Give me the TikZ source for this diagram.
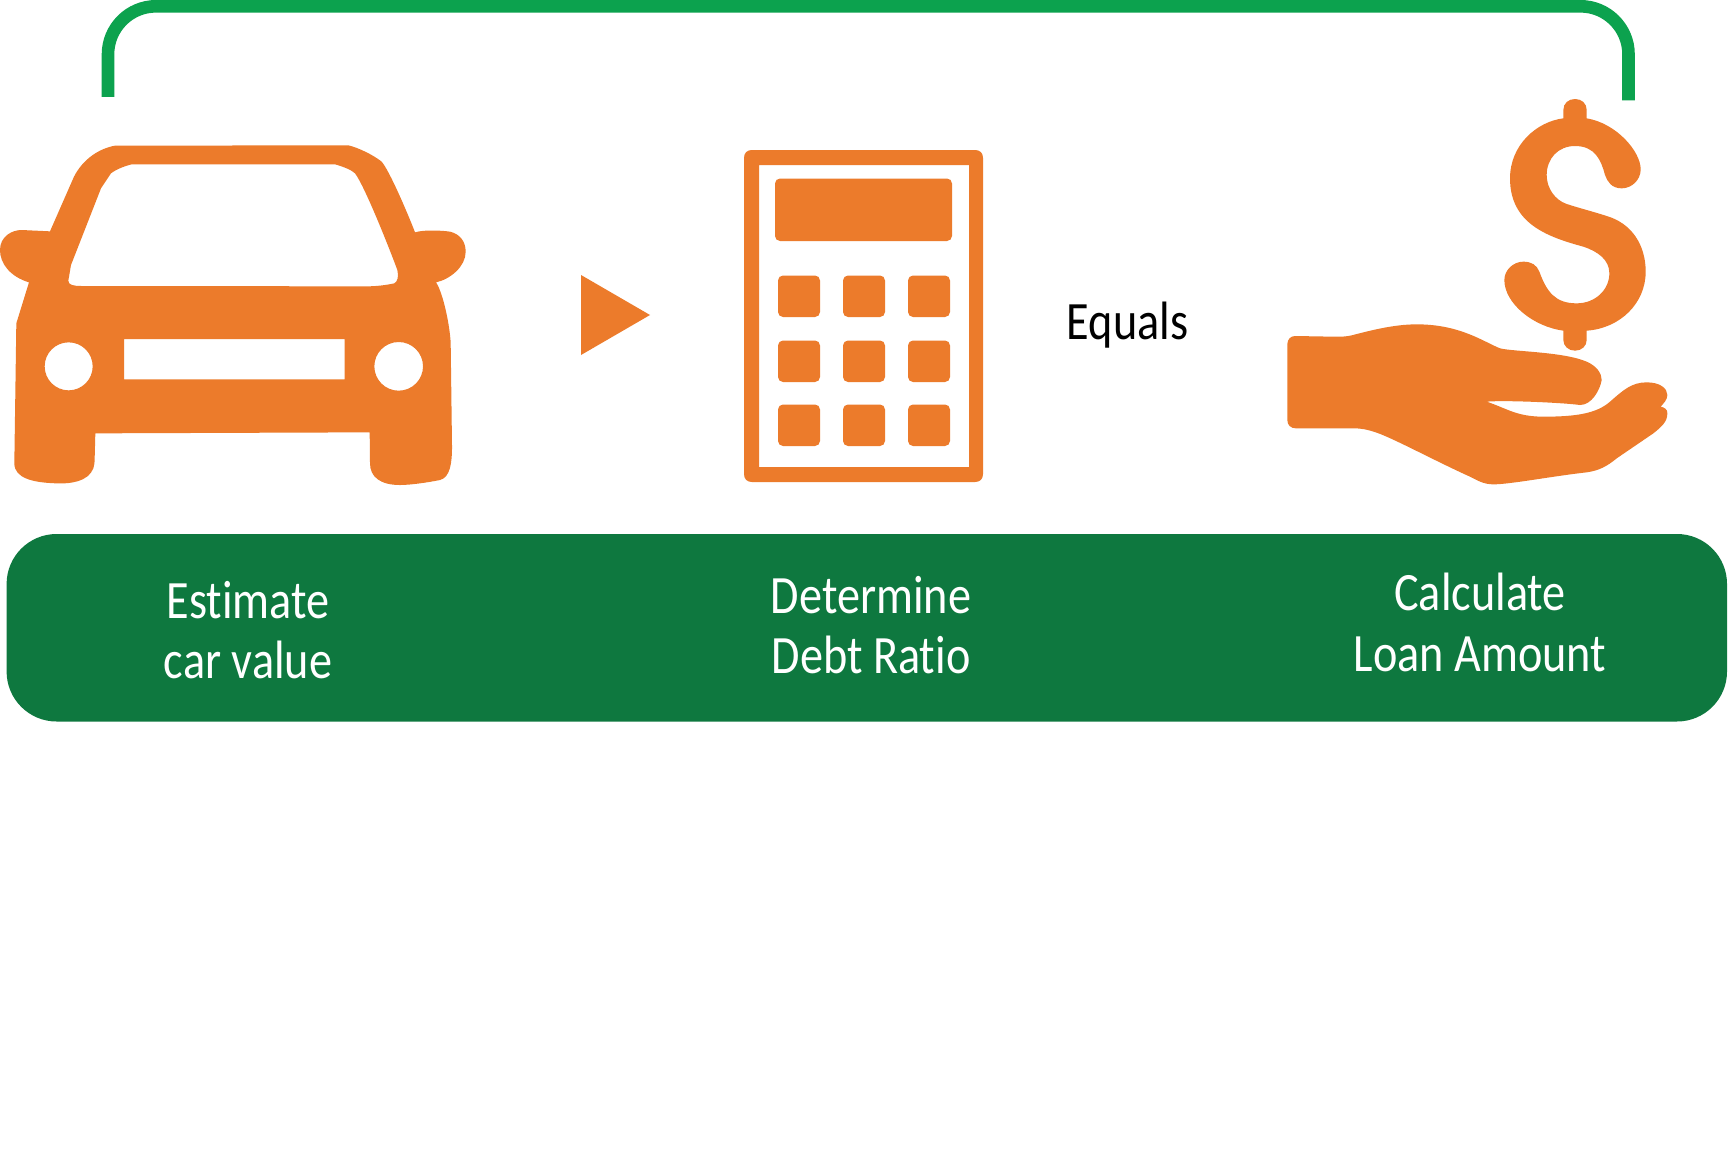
\documentclass[tikz,border=0pt]{standalone}
\usepackage{fontspec}
\setmainfont[FakeStretch=0.856,Ligatures=NoCommon]{Carlito}
\definecolor{iconorange}{HTML}{EC7B2B}
\definecolor{bardark}{HTML}{0E783F}
\definecolor{brightgreen}{HTML}{0CA24E}
\tikzset{
  icon/.style={fill=iconorange,draw=none},
  holes/.style={fill=iconorange,draw=none,even odd rule},
  barlabel/.style={text=white,anchor=base,inner sep=0pt,font=\fontsize{27}{32}\selectfont},
  keybtn/.style={fill=iconorange,draw=none,rounded corners=2.5pt}
}
\begin{document}
\begin{tikzpicture}[x=0.5pt,y=-0.5pt]
\useasboundingbox (0,0) rectangle (1728,1156);
\fill[white] (0,0) rectangle (1728,1156);
% bracket
\draw[brightgreen,line width=6.3pt,rounded corners=24pt] (108,97) -- (108,6.3) -- (1628.5,6.3) -- (1628.5,100.5);
% bar
\fill[bardark,rounded corners=25pt] (6.6,534) rectangle (1727,721.5);
% car
\begin{scope}[shift={(0,120)},x=0.16667pt,y=-0.16667pt]
\fill[holes]
 (345,77) -- (1045,76) .. controls (1075,83) and (1120,105) .. (1145,125)
 .. controls (1170,155) and (1225,285) .. (1245,337)
 .. controls (1275,328) and (1330,332) .. (1350,335)
 .. controls (1380,342) and (1397,365) .. (1397,395)
 .. controls (1397,440) and (1350,478) .. (1308,487)
 .. controls (1330,520) and (1350,620) .. (1352,670)
 -- (1356,980)
 .. controls (1356,1030) and (1350,1072) .. (1320,1080)
 .. controls (1280,1088) and (1230,1095) .. (1200,1095)
 .. controls (1140,1095) and (1110,1070) .. (1110,1030)
 -- (1109,937) -- (286,940) -- (284,1015)
 .. controls (284,1030) and (282,1038) .. (280,1045)
 .. controls (265,1085) and (210,1092) .. (170,1090)
 .. controls (100,1088) and (43,1075) .. (43,1030)
 -- (49,610) -- (87,487)
 .. controls (30,470) and (0,430) .. (0,390)
 .. controls (0,350) and (35,330) .. (65,330)
 -- (150,334) -- (222,170)
 .. controls (250,115) and (300,85) .. (345,77) -- cycle
 (395,133) -- (1005,133) .. controls (1030,140) and (1055,150) .. (1065,160)
 .. controls (1095,200) and (1170,390) .. (1192,450)
 .. controls (1197,470) and (1192,485) .. (1183,490)
 .. controls (1160,495) and (1130,499) .. (1100,499)
 -- (245,498) .. controls (220,498) and (205,495) .. (205,482)
 -- (213,435) -- (303,205) -- (333,160)
 .. controls (350,147) and (375,138) .. (395,133) -- cycle
 (372,657) rectangle (1034,778)
 (206,739) circle[radius=72]
 (1196,739) circle[radius=73];
\end{scope}
% triangle
\fill[icon] (581,275) -- (650,315) -- (581,355) -- cycle;
% calculator
\fill[holes]
 (752,150) -- (975,150) .. controls (980,150) and (983,153) .. (983,158)
 -- (983,474) .. controls (983,479) and (980,482) .. (975,482)
 -- (752,482) .. controls (747,482) and (744,479) .. (744,474)
 -- (744,158) .. controls (744,153) and (747,150) .. (752,150) -- cycle
 (759,165) rectangle (969,467);
\fill[keybtn] (775,178.5) rectangle (952,241);
\foreach \kx in {778,843,908}
  \foreach \ky in {275.5,340.5,404.5}
    \fill[keybtn] (\kx,\ky) rectangle ++(42,41.5);
% dollar and hand
\begin{scope}[shift={(1270,80)},x=0.16667pt,y=-0.16667pt]
\fill[icon]
 (880,115) -- (880,90) .. controls (880,70) and (895,57) .. (915,57)
 .. controls (935,57) and (950,70) .. (950,90) -- (950,115)
 .. controls (1040,130) and (1112,215) .. (1112,268)
 .. controls (1112,300) and (1085,325) .. (1055,325)
 .. controls (1025,325) and (1012,305) .. (1005,285)
 .. controls (993,240) and (975,198) .. (915,198)
 .. controls (865,198) and (830,235) .. (830,285)
 .. controls (830,325) and (855,360) .. (890,372)
 .. controls (930,385) and (970,395) .. (1010,408)
 .. controls (1085,430) and (1127,495) .. (1127,575)
 .. controls (1127,670) and (1050,745) .. (950,752)
 -- (950,780) .. controls (950,798) and (935,812) .. (915,812)
 .. controls (895,812) and (880,798) .. (880,780) -- (880,752)
 .. controls (790,740) and (703,670) .. (703,600)
 .. controls (703,570) and (730,545) .. (760,545)
 .. controls (785,545) and (800,555) .. (808,575)
 .. controls (830,635) and (855,670) .. (920,670)
 .. controls (975,670) and (1018,630) .. (1018,580)
 .. controls (1018,540) and (985,515) .. (940,500)
 .. controls (830,470) and (720,430) .. (720,295)
 .. controls (720,195) and (800,125) .. (880,115) -- cycle;
\fill[icon]
 (75,768) -- (190,770) .. controls (215,770) and (230,770) .. (245,766)
 .. controls (300,752) and (370,733) .. (440,733)
 .. controls (570,733) and (640,785) .. (690,805)
 .. controls (730,815) and (880,815) .. (950,845)
 .. controls (980,858) and (995,880) .. (995,900)
 .. controls (990,930) and (965,975) .. (930,975)
 .. controls (880,968) and (700,960) .. (650,965)
 .. controls (710,985) and (740,1010) .. (820,1010)
 .. controls (920,1010) and (980,1000) .. (1020,965)
 .. controls (1060,930) and (1085,907) .. (1130,907)
 .. controls (1170,907) and (1192,925) .. (1192,945)
 .. controls (1192,960) and (1180,970) .. (1172,980)
 .. controls (1185,983) and (1192,988) .. (1192,1000)
 .. controls (1192,1025) and (1175,1040) .. (1150,1060)
 -- (1040,1135)
 .. controls (1010,1160) and (985,1172) .. (950,1177)
 .. controls (850,1188) and (720,1213) .. (670,1213)
 .. controls (640,1213) and (620,1200) .. (600,1190)
 .. controls (500,1145) and (370,1075) .. (320,1058)
 .. controls (290,1048) and (275,1045) .. (250,1045)
 -- (78,1045) .. controls (62,1045) and (52,1035) .. (52,1020)
 -- (52,793) .. controls (52,778) and (62,768) .. (75,768) -- cycle;
\end{scope}
% labels
\node[barlabel,text=black] (equals) at (1127.5,339) {Equals};
\node[barlabel] (est) at (248,618) {Estimate};
\node[barlabel] (carv) at (248,678) {car value};
\node[barlabel] (det) at (871,613) {Determine};
\node[barlabel] (debt) at (871,673) {Debt Ratio};
\node[barlabel] (calc) at (1480,610.5) {Calculate};
\node[barlabel] (loan) at (1480,671) {Loan Amount};
\end{tikzpicture}
\end{document}
